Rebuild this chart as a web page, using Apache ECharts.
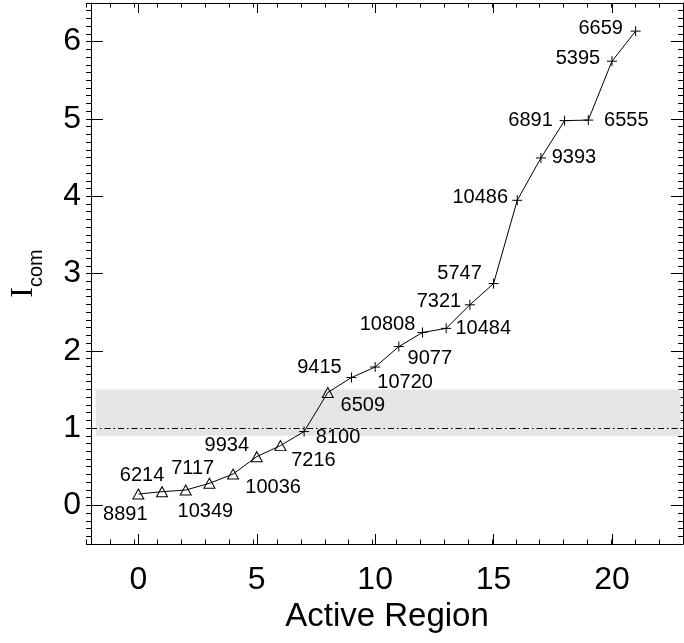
<!DOCTYPE html>
<html>
<head>
<meta charset="utf-8">
<script src="https://cdn.jsdelivr.net/npm/echarts@6/dist/echarts.min.js"></script>
<style>
html,body{margin:0;padding:0;background:#fff;}
#chart{width:684px;height:643px;}
</style>
</head>
<body>
<div id="chart"></div>
<script>
// ---- data ----
const regions = ['8891','6214','7117','10349','10036','9934','7216','8100','6509','9415','10720',
                 '9077','10808','10484','7321','5747','10486','9393','6891','6555','5395','6659'];
const xIndex = [0,1,2,3,4,5,6,7,8,9,10,11,12,13,14,15,16,17,18,19,20,21];
const icom = [0.146,0.177,0.198,0.285,0.405,0.63,0.773,0.955,1.46,1.654,1.79,
              2.055,2.237,2.29,2.595,2.87,3.947,4.495,4.978,4.985,5.747,6.136];
const markers = ['t','t','t','t','t','t','t','p','t','p','p','p','p','p','p','p','p','p','p','p','p','p'];
const xMajorTicks = [0,5,10,15,20];
const yMajorTicks = [0,1,2,3,4,5,6];
const thresholdValue = 1;
const bandRange = [0.9, 1.5];

// ---- layout / style (not data) ----
const labelOffsets = [[-13,20],[-20,-16],[7,-22],[-4,28],[40,13],[-30,-11],[33,15],[34,6],
  [35,13],[-32,-10],[30,15],[31,12],[-35,-8],[37,0],[-31,-3],[-34,-10],[-37,-3],[33,0],
  [-34,0],[38,0],[-34,-3],[-35,-3]];
const FONT = 'Liberation Sans';
const plusPath = 'path://M0,5L10,5M5,0L5,10';

const grid = {left:86, right:1, top:3, bottom:99};
const black = '#000';

function majorX(pos, withLabels){
  return {
    gridIndex:0, type:'value', position:pos, min:-2, max:23,
    axisLine:{show:true, onZero:false, lineStyle:{color:black, width:1}},
    axisTick:{show:true, inside:true, length:10, customValues:xMajorTicks, lineStyle:{color:black, width:1}},
    axisLabel:withLabels ? {show:true, customValues:xMajorTicks, fontSize:32, margin:20, color:black, fontFamily:FONT} : {show:false},
    splitLine:{show:false}
  };
}
function minorX(pos){
  return {
    gridIndex:1, type:'value', position:pos, min:-2, max:23, interval:1,
    axisLine:{show:false, onZero:false}, axisLabel:{show:false}, splitLine:{show:false},
    axisTick:{show:true, inside:true, length:4.5, lineStyle:{color:black, width:1}}
  };
}
function majorY(pos, withLabels){
  return {
    gridIndex:0, type:'value', position:pos, min:-0.5, max:6.5,
    axisLine:{show:true, onZero:false, lineStyle:{color:black, width:1}},
    axisTick:{show:true, inside:true, length:12, customValues:yMajorTicks, lineStyle:{color:black, width:1}},
    axisLabel:withLabels ? {show:true, customValues:yMajorTicks, fontSize:32, margin:10, color:black, fontFamily:FONT} : {show:false},
    splitLine:{show:false}
  };
}
function minorY(pos){
  return {
    gridIndex:1, type:'value', position:pos, min:-0.5, max:6.5, interval:0.1,
    axisLine:{show:false, onZero:false}, axisLabel:{show:false}, splitLine:{show:false},
    axisTick:{show:true, inside:true, length:5, lineStyle:{color:black, width:1}}
  };
}

const xb = majorX('bottom', true);
xb.name = 'Active Region';
xb.nameLocation = 'middle';
xb.nameGap = 50;
xb.nameTextStyle = {fontSize:33, color:black, fontFamily:FONT};

const yl = majorY('left', true);
yl.name = '{a|I}{b|com}';
yl.nameLocation = 'middle';
yl.nameRotate = 90;
yl.nameGap = 45;
yl.nameTextStyle = {
  rich:{
    a:{fontSize:32, fontFamily:'Liberation Serif', color:black, lineHeight:32, padding:[0,0,6,0], verticalAlign:'bottom'},
    b:{fontSize:20, fontFamily:FONT, color:black, lineHeight:20, verticalAlign:'bottom'}
  }
};

const seriesData = icom.map((v,i) => ({
  value:[xIndex[i], v],
  symbol: markers[i] === 't' ? 'triangle' : plusPath,
  symbolSize: markers[i] === 't' ? [11,10] : 10,
  itemStyle:{color:'transparent', borderColor:black, borderWidth:1},
  label:{offset:labelOffsets[i]}
}));

const chart = echarts.init(document.getElementById('chart'), null, {renderer:'canvas'});
chart.setOption({
  animation:false,
  backgroundColor:'#fff',
  grid:[Object.assign({}, grid), Object.assign({}, grid)],
  xAxis:[xb, majorX('top', false), minorX('bottom'), minorX('top')],
  yAxis:[yl, majorY('right', false), minorY('left'), minorY('right')],
  series:[{
    type:'line', xAxisIndex:0, yAxisIndex:0,
    data:seriesData,
    lineStyle:{color:black, width:1},
    itemStyle:{color:'transparent', borderColor:black, borderWidth:1},
    showAllSymbol:true,
    label:{show:true, position:'inside', formatter:p => regions[p.dataIndex],
           fontSize:20, color:black, fontFamily:FONT},
    emphasis:{disabled:true},
    markArea:{silent:true, itemStyle:{color:'#e5e5e5'},
      data:[[{coord:[-1.8, bandRange[0]]},{coord:[22.9, bandRange[1]]}]]},
    markLine:{silent:true, symbol:['none','none'], label:{show:false},
      lineStyle:{color:black, width:1.2, type:[6,3,1.5,3]},
      data:[{yAxis:thresholdValue}]}
  }]
});
</script>
</body>
</html>
